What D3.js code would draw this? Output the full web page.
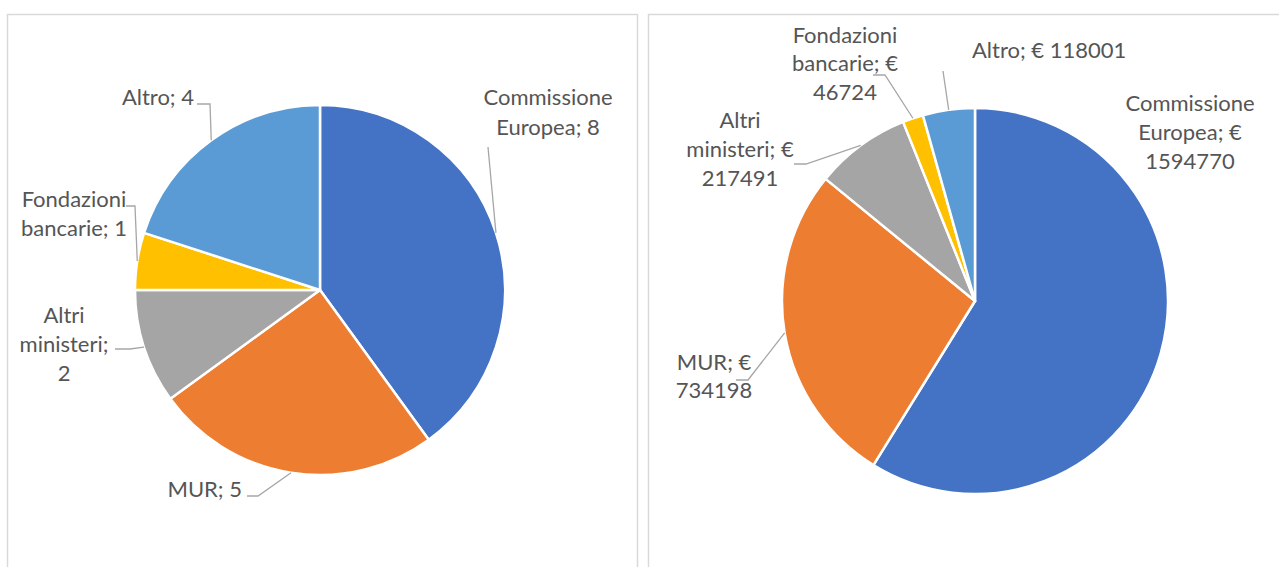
<!DOCTYPE html>
<html><head><meta charset="utf-8">
<script src="https://cdn.jsdelivr.net/npm/d3@7"></script>
<style>
html,body{margin:0;padding:0;background:#fff;}
svg{display:block;}
text{font-family:Lato,"Open Sans",sans-serif;font-size:22px;fill:#555555;}
</style></head>
<body>
<svg id="chart" width="1279" height="567"></svg>
<script>
// ---- data ----
const categories = ["Commissione Europea","MUR","Altri ministeri","Fondazioni bancarie","Altro"];
const countValues = [8, 5, 2, 1, 4];
const amountValues = [1594770, 734198, 217491, 46724, 118001];
const colors = ["#4472C4","#ED7D31","#A5A5A5","#FFC000","#5B9BD5"];
const countLabels = [["Commissione","Europea; 8"],["MUR; 5"],["Altri","ministeri;","2"],["Fondazioni","bancarie; 1"],["Altro; 4"]];
const amountLabels = [["Commissione","Europea; €","1594770"],["MUR; €","734198"],["Altri","ministeri; €","217491"],["Fondazioni","bancarie; €","46724"],["Altro; € 118001"]];

// ---- layout (label placement relative to pie centre) ----
const leftLayout = [
  {x:228, y:-193, gap:30.5, anchor:"middle", lead:[[168,-143]]},
  {x:-78, y:199, gap:29, anchor:"end", lead:[[-62,206],[-73,206]]},
  {x:-256, y:25, gap:29, anchor:"middle", lead:[[-190,59],[-205,59]]},
  {x:-246, y:-91, gap:29, anchor:"middle", lead:[[-185,-84],[-194,-84]]},
  {x:-126, y:-193, gap:29, anchor:"end", lead:[[-110,-186],[-123,-186]]}
];
const rightLayout = [
  {x:215, y:-198, gap:29, anchor:"middle", lead:null},
  {x:-261, y:61, gap:28.5, anchor:"middle", lead:[[-227,79],[-239,79]]},
  {x:-235, y:-181, gap:29, anchor:"middle", lead:[[-169,-137],[-181,-137]]},
  {x:-130, y:-266, gap:28.5, anchor:"middle", lead:[[-90,-226],[-102,-226]]},
  {x:-3, y:-251, gap:29, anchor:"start", lead:[[-32,-230]]}
];

const svg = d3.select("#chart");
// panels
svg.append("rect").attr("x",7.5).attr("y",14.5).attr("width",630).attr("height",620)
  .attr("fill","#fff").attr("stroke","#d9d9d9").attr("stroke-width",1.5);
svg.append("rect").attr("x",648.5).attr("y",14.5).attr("width",700).attr("height",620)
  .attr("fill","#fff").attr("stroke","#d9d9d9").attr("stroke-width",1.5);

function drawPie(cx, cy, r, values, labels, layout){
  const g = svg.append("g").attr("transform",`translate(${cx},${cy})`);
  const pie = d3.pie().sort(null).value(d=>d.v)(values.map((v,i)=>({v,i})));
  const arc = d3.arc().innerRadius(0).outerRadius(r);
  g.selectAll("path.slice").data(pie).join("path").attr("class","slice")
    .attr("d",arc).attr("fill",d=>colors[d.data.i])
    .attr("stroke","#fff").attr("stroke-width",2.5).attr("stroke-linejoin","round");
  pie.forEach((d,i)=>{
    const L = layout[i];
    const mid = (d.startAngle+d.endAngle)/2;
    if(L.lead){
      const pts = [[Math.sin(mid)*r, -Math.cos(mid)*r]].concat(L.lead);
      g.append("polyline").attr("points",pts.map(p=>p.join(",")).join(" "))
        .attr("fill","none").attr("stroke","#a6a6a6").attr("stroke-width",1.3);
    }
    const t = g.append("text").attr("text-anchor",L.anchor);
    labels[i].forEach((line,k)=>{
      t.append("tspan").attr("x",L.x).attr("y",L.y+k*L.gap).attr("dy","0.36em").text(line);
    });
  });
}
drawPie(320, 290, 185, countValues, countLabels, leftLayout);
drawPie(975, 301, 193, amountValues, amountLabels, rightLayout);
</script>
</body></html>
